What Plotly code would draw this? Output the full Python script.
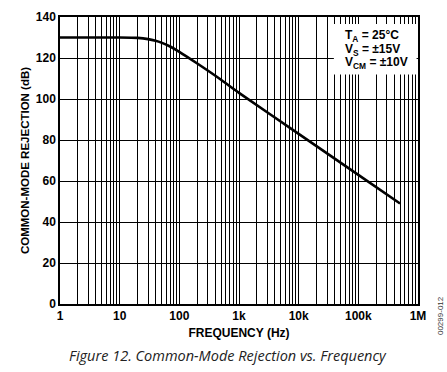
import plotly.graph_objects as go

# Data
freq_hz = [1, 10, 20, 30, 40, 50, 70, 100, 200, 500, 1000, 10000, 100000, 500000]
cmr_db = [130, 130, 129.8, 129.2, 128.4, 127.5, 125.6, 123, 117.3, 109.4, 103, 83, 63, 49]

decades = [1, 10, 100, 1000, 10000, 100000, 1000000]
decade_labels = ["1", "10", "100", "1k", "10k", "100k", "1M"]
y_ticks = [0, 20, 40, 60, 80, 100, 120, 140]
conditions = ["T<sub>A</sub> = 25°C", "V<sub>S</sub> = ±15V", "V<sub>CM</sub> = ±10V"]

# grid positions for the log axis (1..9 per decade)
x_tickvals = []
x_ticktext = []
for i, d in enumerate(decades):
    if i == len(decades) - 1:
        x_tickvals.append(d)
        x_ticktext.append(decade_labels[i])
        break
    for m in range(1, 10):
        x_tickvals.append(d * m)
        x_ticktext.append(decade_labels[i] if m == 1 else "")

FONT = "Liberation Sans, Arial, sans-serif"

fig = go.Figure()
fig.add_trace(go.Scatter(
    x=freq_hz, y=cmr_db, mode="lines",
    line=dict(color="black", width=2.6, shape="spline", smoothing=0.6),
    hoverinfo="skip", showlegend=False,
))

fig.update_layout(
    width=447, height=372,
    margin=dict(l=60, r=29, t=17, b=68, autoexpand=False),
    paper_bgcolor="white", plot_bgcolor="white",
    font=dict(family=FONT, color="black"),
    showlegend=False,
)

fig.update_xaxes(
    type="log", range=[0, 6],
    tickvals=x_tickvals, ticktext=x_ticktext,
    showgrid=True, gridcolor="black", gridwidth=1,
    ticks="", showline=True, linecolor="black", linewidth=1.5, mirror=True,
    tickfont=dict(family=FONT, size=12, color="black", weight="bold"),
    title=dict(text="<b>FREQUENCY (Hz)</b>", font=dict(family=FONT, size=12, color="black"), standoff=6),
    zeroline=False, automargin=False,
)
fig.update_yaxes(
    range=[0, 140], tickvals=y_ticks,
    showgrid=True, gridcolor="black", gridwidth=1,
    ticks="", showline=True, linecolor="black", linewidth=1.5, mirror=True,
    tickfont=dict(family=FONT, size=12, color="black", weight="bold"),
    title=dict(text="<b>COMMON-MODE REJECTION (dB)</b>", font=dict(family=FONT, size=11.5, color="black"), standoff=4),
    zeroline=False, automargin=False,
)

# white box behind the test conditions
fig.add_shape(type="rect", xref="paper", yref="paper", x0=0.765, x1=0.996, y0=0.80, y1=0.976,
              fillcolor="white", line=dict(width=0), layer="above")

cond_y = [0.935, 0.885, 0.84]
for txt, yy in zip(conditions, cond_y):
    fig.add_annotation(
        xref="paper", yref="paper", x=0.79, y=yy, xanchor="left", yanchor="middle",
        text="<b>" + txt + "</b>", align="left", showarrow=False,
        font=dict(family=FONT, size=12, color="black"),
    )

# caption
fig.add_annotation(
    xref="paper", yref="paper", x=0.47, y=-0.18, xanchor="center", yanchor="middle",
    text="<i>Figure 12. Common-Mode Rejection vs. Frequency</i>",
    showarrow=False, font=dict(family="Open Sans, Lato, sans-serif", size=14.5, color="#222222"),
)

# figure code on right
fig.add_annotation(
    xref="paper", yref="paper", x=1.063, y=-0.04, xanchor="center", yanchor="middle",
    text="00299-012", textangle=-90,
    showarrow=False, font=dict(family=FONT, size=8, color="#333333"),
)

fig.write_html("out.html", config={"displayModeBar": False},
               post_script="document.body.style.margin='0';document.body.style.padding='0';")
